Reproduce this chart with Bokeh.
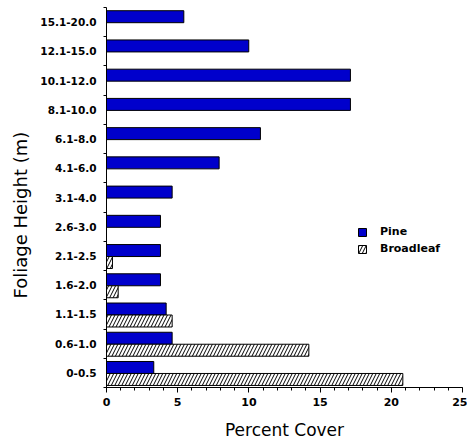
from bokeh.plotting import figure
from bokeh.models import ColumnDataSource, FixedTicker, Range1d, Legend, LegendItem, Title
from bokeh.embed import file_html
from bokeh.resources import INLINE

categories = ["0-0.5", "0.6-1.0", "1.1-1.5", "1.6-2.0", "2.1-2.5", "2.6-3.0", "3.1-4.0",
              "4.1-6.0", "6.1-8.0", "8.1-10.0", "10.1-12.0", "12.1-15.0", "15.1-20.0"]
pine = [3.32, 4.61, 4.19, 3.79, 3.79, 3.79, 4.61, 7.91, 10.81, 17.13, 17.13, 9.99, 5.43]
broadleaf = [20.81, 14.21, 4.61, 0.82, 0.42, 0, 0, 0, 0, 0, 0, 0, 0]
x_ticks = [0, 5, 10, 15, 20, 25]

n = len(categories)
BAR_H = 0.41
PINE_OFF = 0.685
BROAD_OFF = 0.275

pine_src = ColumnDataSource(dict(y=[i + PINE_OFF for i in range(n)], v=pine))
bi = [i for i in range(n) if broadleaf[i] > 0]
broad_src = ColumnDataSource(dict(y=[i + BROAD_OFF for i in bi], v=[broadleaf[i] for i in bi]))

p = figure(width=467, height=443, output_backend="svg", toolbar_location=None,
           x_range=Range1d(0, 25), y_range=Range1d(0, n),
           min_border_left=106, min_border_right=5, min_border_top=7, min_border_bottom=56)
p.outline_line_color = None
p.xgrid.visible = False
p.ygrid.visible = False

r_pine = p.hbar(y="y", right="v", left=0, height=BAR_H, source=pine_src,
                fill_color="#0000CC", line_color="black", line_width=1)
r_broad = p.hbar(y="y", right="v", left=0, height=BAR_H, source=broad_src,
                 fill_color="white", line_color="black", line_width=1,
                 hatch_pattern="/", hatch_color="black", hatch_weight=1, hatch_scale=7)

# x axis
xa = p.xaxis[0]
xa.ticker = FixedTicker(ticks=x_ticks, minor_ticks=list(range(0, 26)))
xa.axis_label = "Percent Cover"
xa.axis_label_text_font = "DejaVu Sans"
xa.axis_label_text_font_style = "normal"
xa.axis_label_text_font_size = "17px"
xa.axis_label_text_color = "black"
xa.axis_label_standoff = 11
xa.major_label_text_font = "DejaVu Sans"
xa.major_label_text_font_style = "bold"
xa.major_label_text_font_size = "11px"
xa.major_label_text_color = "black"
xa.major_label_standoff = 5
xa.major_tick_out = 5
xa.major_tick_in = 0
xa.minor_tick_out = 3
xa.minor_tick_in = 0
xa.axis_line_color = "black"
xa.major_tick_line_color = "black"
xa.minor_tick_line_color = "black"

# y axis
ya = p.yaxis[0]
ya.ticker = FixedTicker(ticks=[i + 0.5 for i in range(n)], minor_ticks=list(range(0, n + 1)))
ya.major_label_overrides = {i + 0.5: categories[i] for i in range(n)}
ya.major_label_text_font = "DejaVu Sans"
ya.major_label_text_font_style = "bold"
ya.major_label_text_font_size = "10.5px"
ya.major_label_text_color = "black"
ya.major_label_standoff = 7
ya.major_tick_line_color = None
ya.major_tick_out = 0
ya.major_tick_in = 0
ya.minor_tick_out = 3
ya.minor_tick_in = 0
ya.minor_tick_line_color = "black"
ya.axis_line_color = "black"

ytitle = Title(text="Foliage Height (m)", align="left", offset=89, standoff=11,
               vertical_align="middle",
               text_font="DejaVu Sans", text_font_size="18px", text_font_style="normal",
               text_color="black")
p.add_layout(ytitle, "left")

legend = Legend(items=[LegendItem(label="Pine", renderers=[r_pine]),
                       LegendItem(label="Broadleaf", renderers=[r_broad])],
                location=(251, 132), orientation="vertical",
                glyph_width=10, glyph_height=10, label_height=10, spacing=4,
                label_standoff=13, padding=0, margin=0,
                border_line_color=None, background_fill_alpha=0,
                label_text_font="DejaVu Sans", label_text_font_style="bold",
                label_text_font_size="11px", label_text_color="black")
p.add_layout(legend, "center")

open("out.html", "w").write(file_html(p, INLINE))
